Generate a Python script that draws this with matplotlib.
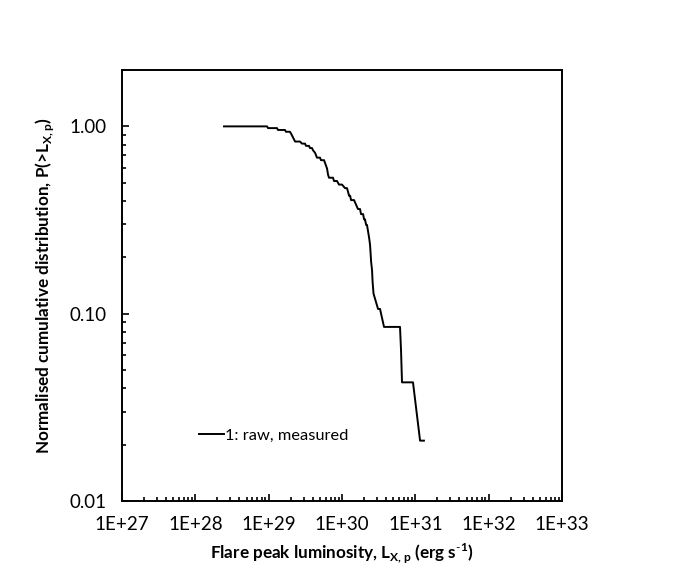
import matplotlib
matplotlib.use("Agg")
import matplotlib.pyplot as plt
from matplotlib.ticker import FixedLocator, LogLocator, NullFormatter, FixedFormatter
import numpy as np

plt.rcParams['font.family'] = ['Lato', 'DejaVu Sans']
plt.rcParams['mathtext.fontset'] = 'custom'
plt.rcParams['mathtext.rm'] = 'Lato'
plt.rcParams['mathtext.bf'] = 'Lato:bold'

# Cumulative probability level of each step (k/47)
prob_levels = [1.000, 0.979, 0.957, 0.936, 0.915, 0.894, 0.872, 0.851, 0.830, 0.809,
               0.787, 0.766, 0.745, 0.723, 0.702, 0.681, 0.660, 0.638, 0.617, 0.596,
               0.574, 0.553, 0.532, 0.511, 0.489, 0.468, 0.447, 0.426, 0.404, 0.383,
               0.362, 0.340, 0.319, 0.298, 0.277, 0.255, 0.234, 0.213, 0.191, 0.170,
               0.149, 0.128, 0.106, 0.085, 0.064, 0.043, 0.021]
# Luminosity where each step starts and ends (erg/s)
lum_start = [2.46e28, 9.8e28, 1.34e29, 1.72e29, 2.02e29, 2.08e29, 2.15e29, 2.22e29, 2.29e29, 2.85e29,
             3.23e29, 3.66e29, 4.03e29, 4.29e29, 4.42e29, 4.56e29, 5.17e29, 5.87e29, 6.05e29, 6.25e29,
             6.35e29, 6.45e29, 6.65e29, 7.78e29, 9.10e29, 1.10e30, 1.21e30, 1.25e30, 1.33e30, 1.55e30,
             1.65e30, 1.82e30, 2.00e30, 2.13e30, 2.26e30, 2.34e30, 2.41e30, 2.45e30, 2.49e30, 2.57e30,
             2.61e30, 2.69e30, 3.10e30, 3.74e30, 6.38e30, 6.58e30, 1.16e31]
lum_end = [9.5e28, 1.30e29, 1.67e29, 1.95e29, 2.02e29, 2.08e29, 2.15e29, 2.22e29, 2.67e29, 3.13e29,
           3.55e29, 3.90e29, 4.03e29, 4.29e29, 4.42e29, 5.01e29, 5.69e29, 5.87e29, 6.05e29, 6.25e29,
           6.35e29, 6.45e29, 7.54e29, 8.55e29, 1.00e30, 1.17e30, 1.21e30, 1.29e30, 1.46e30, 1.55e30,
           1.76e30, 1.94e30, 2.06e30, 2.19e30, 2.26e30, 2.34e30, 2.41e30, 2.45e30, 2.49e30, 2.57e30,
           2.61e30, 2.69e30, 3.30e30, 6.18e30, 6.38e30, 9.29e30, 1.31e31]

x_ticks = [1e27, 1e28, 1e29, 1e30, 1e31, 1e32, 1e33]
x_tick_labels = ['1E+27', '1E+28', '1E+29', '1E+30', '1E+31', '1E+32', '1E+33']
y_ticks = [0.01, 0.1, 1.0]
y_tick_labels = ['0.01', '0.10', '1.00']

xs, ys = [], []
for s, e, p in zip(lum_start, lum_end, prob_levels):
    xs += [s, e]
    ys += [p, p]

fig = plt.figure(figsize=(6.84, 5.77), dpi=100)
ax = fig.add_axes([122/684, 76/577, 440/684, 431/577])
ax.plot(xs, ys, color='black', lw=1.4, label='1: raw, measured')
ax.set_xscale('log')
ax.set_yscale('log')
ax.set_xlim(1e27, 1e33)
ax.set_ylim(0.01, 2.0)

ax.xaxis.set_major_locator(FixedLocator(x_ticks))
ax.xaxis.set_major_formatter(FixedFormatter(x_tick_labels))
ax.xaxis.set_minor_locator(LogLocator(base=10, subs=np.arange(2, 10), numticks=20))
ax.xaxis.set_minor_formatter(NullFormatter())
ax.yaxis.set_major_locator(FixedLocator(y_ticks))
ax.yaxis.set_major_formatter(FixedFormatter(y_tick_labels))
ax.yaxis.set_minor_locator(LogLocator(base=10, subs=np.arange(2, 10), numticks=20))
ax.yaxis.set_minor_formatter(NullFormatter())

ax.tick_params(which='both', direction='in', top=False, right=False, width=1.2, labelsize=13.5)
ax.tick_params(which='major', length=5)
ax.tick_params(which='minor', length=3)
ax.tick_params(axis='x', which='major', pad=11)
ax.tick_params(axis='y', which='major', pad=11)
for sp in ax.spines.values():
    sp.set_linewidth(1.4)

ax.set_xlabel(r'Flare peak luminosity, L$_{\mathbf{X,p}}$ (erg s$^{\mathbf{\text{-}1}}$)',
              fontsize=12.3, fontweight='bold', labelpad=6)
ax.set_ylabel(r'Normalised cumulative distribution, P(>L$_{\mathbf{X,p}}$)',
              fontsize=12.3, fontweight='bold', labelpad=10)

ax.legend(loc='lower left', bbox_to_anchor=(0.16, 0.12), frameon=False, fontsize=11.8,
          handlelength=1.5, handletextpad=0.1, borderaxespad=0)

fig.savefig('out.png', dpi=100)
